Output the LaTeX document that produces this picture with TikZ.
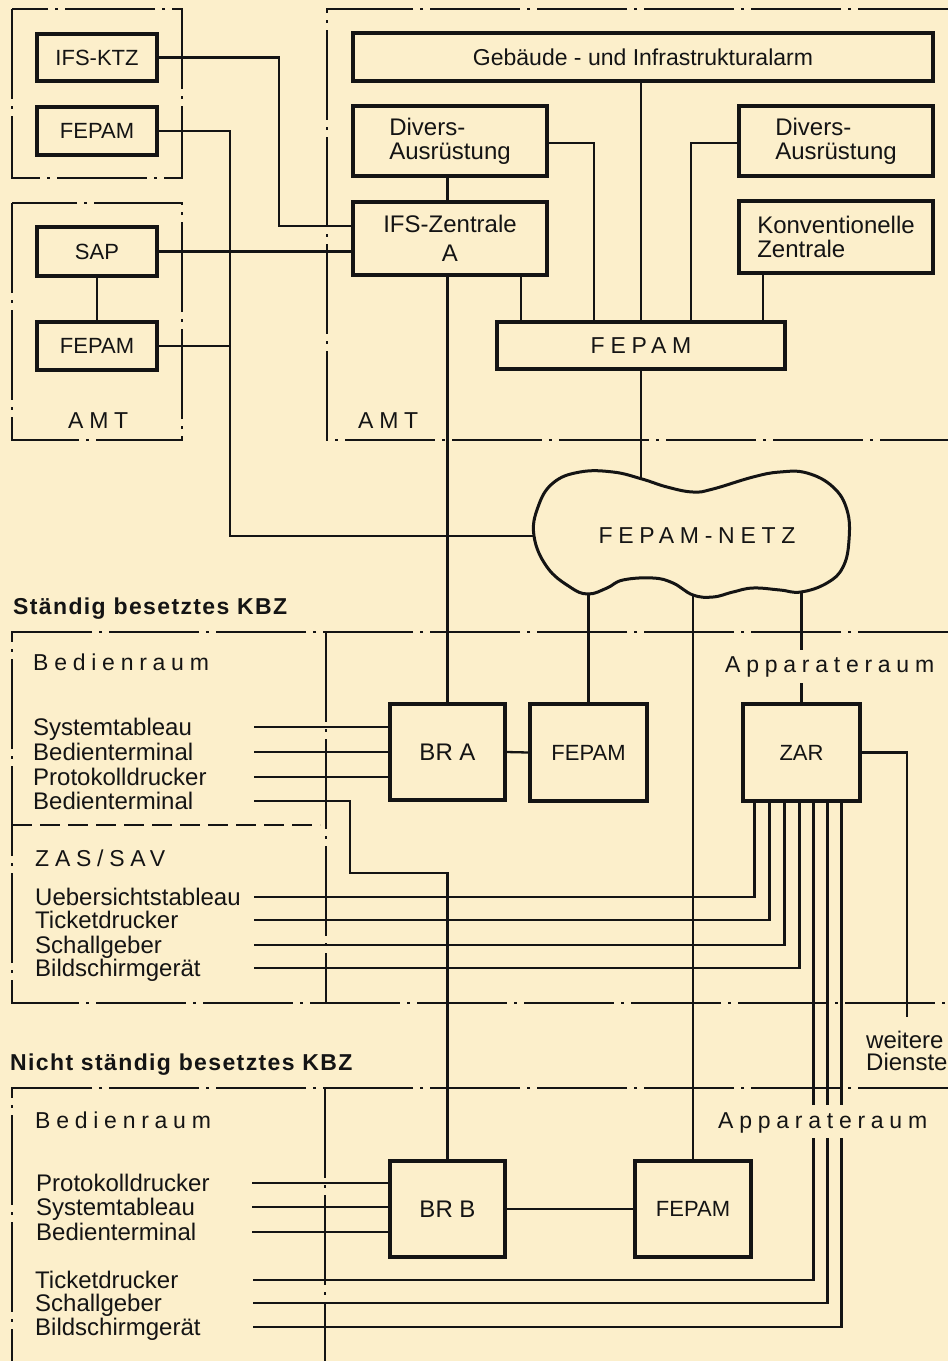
\documentclass[tikz,border=0pt]{standalone}
\usepackage{fontspec}
\setmainfont{Liberation Sans}
\newfontfamily\spc[LetterSpace=25]{Liberation Sans}
\newfontfamily\ttlf[LetterSpace=6]{Liberation Sans}
\definecolor{paper}{HTML}{FCEFCB}
\definecolor{ink}{HTML}{141414}
\tikzset{
 box/.style={draw=ink, line width=3.2pt, inner sep=0pt, text=ink, font=\fontsize{24}{24}\selectfont},
 capbox/.style={box, font=\fontsize{22}{22}\selectfont},
 wire/.style={draw=ink, line width=2.3pt},
 zone/.style={draw=ink, line width=2.3pt, dash pattern=on 90pt off 7pt on 3pt off 7pt},
 split/.style={draw=ink, line width=2.1pt, dash pattern=on 20pt off 8pt},
 lbl/.style={inner sep=0pt, anchor=base west, text=ink, font=\fontsize{24}{24}\selectfont},
 slbl/.style={lbl, font=\spc\fontsize{23}{23}\selectfont},
 ttl/.style={lbl, font=\ttlf\bfseries\fontsize{23}{23}\selectfont},
}
\begin{document}
\begin{tikzpicture}[x=1pt,y=-1pt]
\fill[paper] (0,0) rectangle (948,1361);
\useasboundingbox (0,0) rectangle (948,1361);

% zones
\draw[zone] (12,9) rectangle (182,178);
\draw[zone] (12,203) rectangle (182,440);
\draw[zone] (948,9) -- (327,9) -- (327,440) -- (948,440);
\draw[zone] (948,632) -- (12,632) -- (12,1003) -- (948,1003);
\draw[zone] (326,632) -- (326,1003);
\draw[split] (12,825) -- (320,825);
\draw[zone] (948,1088) -- (12,1088) -- (12,1361);
\draw[zone] (325,1088) -- (325,1361);

% boxes
\node[capbox, minimum width=120pt, minimum height=47pt] (ifsktz) at (97,57.5) {IFS-KTZ};
\node[capbox, minimum width=120pt, minimum height=48pt] (fepam1) at (97,131) {FEPAM};
\node[capbox, minimum width=120pt, minimum height=49pt] (sap) at (97,251.5) {SAP};
\node[capbox, minimum width=120pt, minimum height=48pt] (fepam2) at (97,346) {FEPAM};
\node[box, minimum width=580pt, minimum height=48pt, font=\fontsize{23}{24}\selectfont] (geb) at (643,57) {Gebäude - und Infrastrukturalarm};
\node[box, minimum width=194pt, minimum height=70pt, align=left] (div1) at (450,141) {Divers-\\Ausrüstung};
\node[box, minimum width=194pt, minimum height=73pt, align=center] (ifsz) at (450,238.5) {IFS-Zentrale\\[5pt]A};
\node[box, minimum width=194pt, minimum height=70pt, align=left] (div2) at (836,141) {Divers-\\Ausrüstung};
\node[box, minimum width=194pt, minimum height=72pt, align=left] (konv) at (836,237) {Konventionelle\\Zentrale};
\node[box, minimum width=288pt, minimum height=47pt, font=\spc\fontsize{23}{23}\selectfont] (fepamw) at (641,345.5) {FEPAM};
\node[box, minimum width=115pt, minimum height=96pt] (bra) at (447.5,752) {BR A};
\node[capbox, minimum width=117pt, minimum height=97pt] (fepamm) at (588.5,752.5) {FEPAM};
\node[capbox, minimum width=117pt, minimum height=97pt] (zar) at (801.5,752.5) {ZAR};
\node[box, minimum width=115pt, minimum height=96pt] (brb) at (447.5,1209) {BR B};
\node[capbox, minimum width=116pt, minimum height=96pt] (fepamb) at (693,1209) {FEPAM};

% cloud
\draw[draw=ink, line width=3pt] plot[smooth cycle, tension=0.7] coordinates {(534,536) (538,507) (553,483) (580,472) (613,472) (642,479) (667,487) (693,492) (713,489) (753,477) (780,472) (807,473) (833,487) (847,510) (849,540) (843,567) (827,583) (801,592) (780,590) (753,588) (733,592) (713,597) (693,595) (673,583) (653,578) (623,580) (607,588) (588,594) (570,587) (547,567)};
\node[inner sep=0pt, text=ink, font=\spc\fontsize{23}{23}\selectfont] (netz) at (697,536) {FEPAM-NETZ};
\coordinate (cltop) at (641,479);
\coordinate (clleft) at (534,536);
\coordinate (clb1) at (588.5,594);
\coordinate (clb2) at (693,595);
\coordinate (clb3) at (801.5,592);

% labels
\node[slbl] (amt1) at (68,428) {AMT};
\node[slbl] (amt2) at (358,428) {AMT};
\node[ttl] (t1) at (13,614) {Ständig besetztes KBZ};
\node[ttl] (t2) at (10,1070) {Nicht ständig besetztes KBZ};
\node[slbl] (bed1) at (33,670) {Bedienraum};
\node[slbl] (app1) at (725,672) {Apparateraum};
\node[slbl] (zas) at (35,866) {ZAS/SAV};
\node[slbl] (bed2) at (35,1128) {Bedienraum};
\node[slbl] (app2) at (718,1128) {Apparateraum};
\node[lbl] (wei) at (866,1048) {weitere};
\node[lbl] (die) at (866,1070) {Dienste};

\node[lbl] (a1) at (33,735) {Systemtableau};
\node[lbl] (a2) at (33,760) {Bedienterminal};
\node[lbl] (a3) at (33,785) {Protokolldrucker};
\node[lbl] (a4) at (33,809) {Bedienterminal};
\node[lbl] (b1) at (35,905) {Uebersichtstableau};
\node[lbl] (b2) at (35,928) {Ticketdrucker};
\node[lbl] (b3) at (35,953) {Schallgeber};
\node[lbl] (b4) at (35,976) {Bildschirmgerät};
\node[lbl] (c1) at (36,1191) {Protokolldrucker};
\node[lbl] (c2) at (36,1215) {Systemtableau};
\node[lbl] (c3) at (36,1240) {Bedienterminal};
\node[lbl] (d1) at (35,1288) {Ticketdrucker};
\node[lbl] (d2) at (35,1311) {Schallgeber};
\node[lbl] (d3) at (35,1335) {Bildschirmgerät};

% line starts
\coordinate (sa1) at (254,727);
\coordinate (sa2) at (254,752);
\coordinate (sa3) at (254,777);
\coordinate (sa4) at (254,801);
\coordinate (sb1) at (254,897);
\coordinate (sb2) at (254,920);
\coordinate (sb3) at (254,945);
\coordinate (sb4) at (254,968);
\coordinate (sc1) at (252,1183);
\coordinate (sc2) at (252,1207);
\coordinate (sc3) at (252,1232);
\coordinate (sd1) at (253,1280);
\coordinate (sd2) at (253,1303);
\coordinate (sd3) at (253,1327);

% junctions
\coordinate (j1) at (279,226);
\coordinate (j2) at (230,536);
\coordinate (k1) at (594,143);
\coordinate (k2) at (691,143);
\coordinate (k3) at (521,0);
\coordinate (k4) at (763,0);
\coordinate (m1) at (350,873);
\coordinate (w1) at (907,1017);
\coordinate (gapA) at (0,650);
\coordinate (gapB) at (0,683);
\coordinate (gapC) at (0,1105);
\coordinate (gapD) at (0,1138);

% connectors top
\draw[wire] (ifsktz.east) -| (j1) -- (j1 -| ifsz.west);
\draw[wire] (sap.east) -- (sap.east -| ifsz.west);
\draw[wire] (sap.south) -- (fepam2.north);
\draw[wire] (fepam1.east) -| (j2) -- (clleft);
\draw[wire] (fepam2.east) -- (fepam2.east -| j2);
\draw[wire] (div1.south -| bra.north) -- (ifsz.north -| bra.north);
\draw[wire] (div1.east |- k1) -- (k1) -- (k1 |- fepamw.north);
\draw[wire] (div2.west |- k2) -- (k2) -- (k2 |- fepamw.north);
\draw[wire] (geb.south -| fepamw.north) -- (fepamw.north);
\draw[wire] (k3 |- ifsz.south) -- (k3 |- fepamw.north);
\draw[wire] (k4 |- konv.south) -- (k4 |- fepamw.north);
\draw[wire] (fepamw.south) -- (cltop);
\draw[wire] (ifsz.south -| bra.north) -- (bra.north);

% cloud down
\draw[wire] (clb1) -- (fepamm.north);
\draw[wire] (clb2) -- (fepamb.north);
\draw[wire] (clb3) -- (clb3 |- gapA);
\draw[wire] (clb3 |- gapB) -- (zar.north);
\draw[wire] (bra.east) -- (fepamm.west);
\draw[wire] (zar.east) -| (w1);
\draw[wire] (brb.east) -- (fepamb.west);

% Bedienraum A
\draw[wire] (sa1) -- (sa1 -| bra.west);
\draw[wire] (sa2) -- (sa2 -| bra.west);
\draw[wire] (sa3) -- (sa3 -| bra.west);
\draw[wire] (sa4) -| (m1) -| (brb.north);

% ZAS/SAV
\draw[wire] (sb1) -| ([xshift=13pt]zar.south west);
\draw[wire] (sb2) -| ([xshift=28pt]zar.south west);
\draw[wire] (sb3) -| ([xshift=43pt]zar.south west);
\draw[wire] (sb4) -| ([xshift=58pt]zar.south west);

% lower three from ZAR
\draw[wire] ([xshift=72pt]zar.south west) -- ([xshift=72pt]zar.south west |- gapC);
\draw[wire] ([xshift=86pt]zar.south west) -- ([xshift=86pt]zar.south west |- gapC);
\draw[wire] ([xshift=100pt]zar.south west) -- ([xshift=100pt]zar.south west |- gapC);
\draw[wire] ([xshift=72pt]zar.south west |- gapD) |- (sd1);
\draw[wire] ([xshift=86pt]zar.south west |- gapD) |- (sd2);
\draw[wire] ([xshift=100pt]zar.south west |- gapD) |- (sd3);

% Bedienraum B
\draw[wire] (sc1) -- (sc1 -| brb.west);
\draw[wire] (sc2) -- (sc2 -| brb.west);
\draw[wire] (sc3) -- (sc3 -| brb.west);
\end{tikzpicture}
\end{document}
